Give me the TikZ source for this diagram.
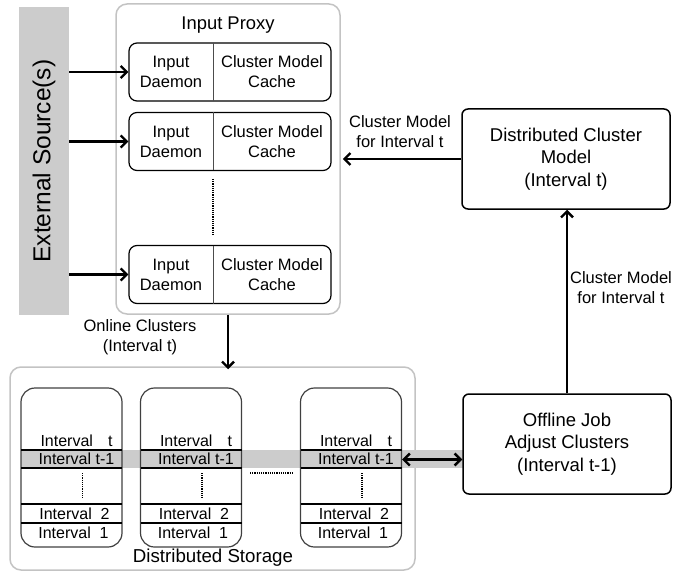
\documentclass[tikz,border=0pt]{standalone}
\usepackage{fontspec}
\setmainfont{Liberation Sans}
\usetikzlibrary{arrows.meta,positioning}
\definecolor{barGrey}{HTML}{CCCCCC}
\definecolor{frameGrey}{HTML}{C3C3C3}

\begin{document}
\begin{tikzpicture}[x=1pt,y=-1pt,
  frame/.style={draw=frameGrey,line width=1.5pt,rounded corners=11pt},
  box/.style={draw,line width=1.5pt,rounded corners=6pt,minimum width=208pt,
    minimum height=100pt,align=center,font=\fontsize{18.5}{22.5}\selectfont},
  unit/.style={draw,line width=1.2pt,rounded corners=8pt,minimum width=202pt,minimum height=58pt},
  txt/.style={align=center,font=\fontsize{16.5}{20}\selectfont,inner sep=0pt},
  rowtxt/.style={font=\fontsize{16}{18}\selectfont,inner sep=0pt},
  column/.style={draw=black!75,line width=1.2pt,rounded corners=14pt,minimum width=101pt,minimum height=159pt},
  flow/.style={-{Straight Barb[length=6pt,width=12pt]},line width=2.4pt}]
\useasboundingbox (0,0) rectangle (692,577);

% sources and proxy
\node[fill=barGrey,minimum width=308pt,minimum height=50pt,rotate=90,
  font=\fontsize{24.5}{28}\selectfont] (ext) at (44,161) {External Source(s)};
\node[frame,minimum width=224pt,minimum height=310pt] (proxy) at (228,159) {};
\node[txt,font=\fontsize{18.4}{22}\selectfont] (proxyname) at (228,25) {Input Proxy};

\foreach \n/\y in {1/72,2/141.5,3/274.5}{
  \node[unit] (u\n) at (230,\y) {};
  \node[txt] (d\n) at (171,\y) {Input\\Daemon};
  \node[txt] (m\n) at (272,\y) {Cluster Model\\Cache};
  \draw[line width=1pt,black!70] (213,\y-29) -- (213,\y+29);
  \draw[flow] (ext.south |- u\n.west) -- (u\n.west);
}
\draw[densely dotted,line width=1.2pt] (213,179) -- (213,236);

% storage
\node[frame,minimum width=405pt,minimum height=203pt] (storage) at (212.5,468.5) {};
\node[txt,font=\fontsize{18.7}{22}\selectfont] (storagename) at (213,558) {Distributed Storage};
\fill[barGrey] (21,450) rectangle (463,468);

\foreach \n/\x in {1/71.5,2/191,3/351}{
  \node[column] (c\n) at (\x,467.5) {};
  \foreach \ry in {450,468,504,523}
    \draw[line width=1.2pt] (\x-50.5,\ry) -- (\x+50.5,\ry);
  \node[rowtxt] at (\x+5,441) {Interval\hspace{15pt}t};
  \node[rowtxt] at (\x+5,459) {Interval t-1};
  \node[rowtxt] at (\x+3,513.5) {Interval\ \ 2};
  \node[rowtxt] at (\x+2,533) {Interval\ \ 1};
  \draw[densely dotted,line width=1.2pt] (\x+11,473) -- (\x+11,498);
}
\draw[densely dotted,line width=1.2pt] (250,473) -- (293,473);

\draw[flow] (proxy.south) -- ([yshift=-3pt]storage.north -| proxy.south);
\node[txt] (onlinelbl) at (140,337) {Online Clusters\\(Interval t)};

% cluster model path
\node[box] (dcm) at (566,159) {Distributed Cluster\\Model\\(Interval t)};
\node[box] (offline) at (567,444) {Offline Job\\Adjust Clusters\\(Interval t-1)};

\draw[flow] (dcm.west) -- ([xshift=2pt]proxy.east);
\node[txt] (leftlbl) at (400,132) {Cluster Model\\for Interval t};
\draw[flow] (offline.north) -- (offline.north |- dcm.south);
\node[txt] (uplbl) at (621,288) {Cluster Model\\for Interval t};

\coordinate (bandmid) at (430,459.5);
\draw[{Straight Barb[length=6pt,width=12pt]}-{Straight Barb[length=6pt,width=12pt]},line width=2.4pt]
  (c3.east |- bandmid) -- (offline.west |- bandmid);
\end{tikzpicture}
\end{document}
